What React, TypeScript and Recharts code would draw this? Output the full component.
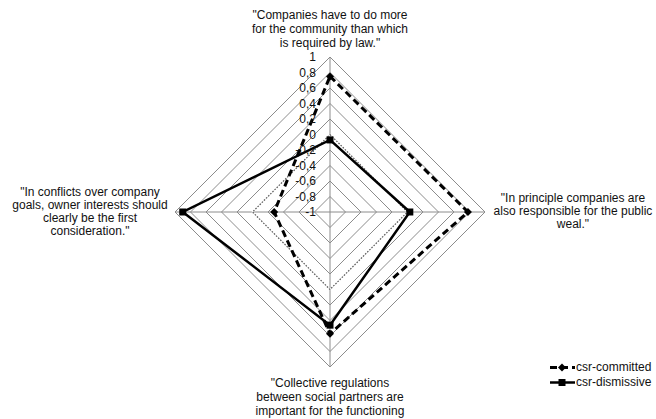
import { RadarChart, Radar, PolarGrid, PolarAngleAxis, PolarRadiusAxis, Legend } from 'recharts';

// statements (axes), top then clockwise
const statements = [
  'beyond-law',
  'public-weal',
  'collective-regulations',
  'owners-first',
];

const statementLines: string[][] = [
  ['"Companies have to do more', 'for the community than which', 'is required by law."'],
  ['"In principle companies are', 'also responsible for the public', 'weal."'],
  ['"Collective regulations', 'between social partners are', 'important for the functioning'],
  ['"In conflicts over company', 'goals, owner interests should', 'clearly be the first', 'consideration."'],
];

const committed = [0.75, 0.78, 0.57, -0.28];
const dismissive = [-0.07, 0.03, 0.46, 0.9];
const zeroLine = [0, 0, 0, 0];

const radiusTicks = [-1, -0.8, -0.6, -0.4, -0.2, 0, 0.2, 0.4, 0.6, 0.8, 1];

const data = statements.map((s, i) => ({
  statement: s,
  committed: committed[i],
  dismissive: dismissive[i],
  zero: zeroLine[i],
}));

const FONT = '"Liberation Sans", Arial, sans-serif';

const fmt = (v: number) => String(Number(v.toFixed(1))).replace('.', ',');

// where each multi-line label sits relative to the axis end point
const labelPlacement = [
  { dx: 0, dy: -34, step: 14 },
  { dx: 80, dy: -14, step: 13 },
  { dx: 0, dy: 8, step: 14 },
  { dx: -77, dy: -20, step: 13 },
];

function AngleTick(props: any) {
  const { x, y, index } = props;
  const lines = statementLines[index] || [];
  const p = labelPlacement[index];
  return (
    <g>
      {lines.map((line, k) => (
        <text
          key={k}
          x={x + p.dx}
          y={y + p.dy + k * p.step}
          textAnchor="middle"
          dominantBaseline="central"
          fontSize={12}
          fontFamily={FONT}
          fill="#111"
        >
          {line}
        </text>
      ))}
    </g>
  );
}

function RadiusTick(props: any) {
  const { x, y, payload } = props;
  return (
    <text
      x={x - 14}
      y={y}
      textAnchor="end"
      dominantBaseline="central"
      fontSize={12}
      fontFamily={FONT}
      fill="#111"
    >
      {fmt(payload.value)}
    </text>
  );
}

function DiamondDot(props: any) {
  const { cx, cy } = props;
  const s = 4;
  return <path d={`M${cx},${cy - s}L${cx + s},${cy}L${cx},${cy + s}L${cx - s},${cy}Z`} fill="#000" />;
}

function SquareDot(props: any) {
  const { cx, cy } = props;
  return <rect x={cx - 3.5} y={cy - 3.5} width={7} height={7} fill="#000" />;
}

function LegendBox() {
  return (
    <div style={{ fontFamily: FONT, fontSize: 12, color: '#111', lineHeight: '15px' }}>
      <div style={{ display: 'flex', alignItems: 'center' }}>
        <svg width={27} height={15}>
          <line x1={1} y1={7.5} x2={26} y2={7.5} stroke="#000" strokeWidth={3} strokeDasharray="7 4" />
          <path d="M13,3.5L17,7.5L13,11.5L9,7.5Z" fill="#000" />
        </svg>
        <span>csr-committed</span>
      </div>
      <div style={{ display: 'flex', alignItems: 'center' }}>
        <svg width={27} height={15}>
          <line x1={1} y1={7.5} x2={26} y2={7.5} stroke="#000" strokeWidth={2.5} />
          <rect x={9.5} y={4} width={7} height={7} fill="#000" />
        </svg>
        <span>csr-dismissive</span>
      </div>
    </div>
  );
}

export default function App() {
  return (
    <div style={{ position: 'absolute', left: 0, top: 0, width: 656, height: 419, background: '#fff' }}>
      <RadarChart
        width={656}
        height={419}
        data={data}
        cx={330}
        cy={212}
        outerRadius={155}
        margin={{ top: 0, right: 0, bottom: 0, left: 0 }}
      >
        <PolarGrid gridType="polygon" stroke="#8c8c8c" strokeWidth={1} />
        <PolarAngleAxis dataKey="statement" tick={<AngleTick />} axisLine={false} tickLine={false} />
        <PolarRadiusAxis
          angle={90}
          domain={[-1, 1]}
          ticks={radiusTicks as any}
          tickCount={11}
          tick={<RadiusTick />}
          axisLine={false}
          tickLine={false}
        />
        <Radar
          dataKey="zero"
          stroke="#ffffff"
          strokeWidth={1.5}
          fill="none"
          dot={false}
          legendType="none"
          isAnimationActive={false}
        />
        <Radar
          dataKey="zero"
          stroke="#555"
          strokeWidth={1.2}
          strokeDasharray="1.5 1.5"
          fill="none"
          dot={false}
          legendType="none"
          isAnimationActive={false}
        />
        <Radar
          name="csr-committed"
          dataKey="committed"
          stroke="#000"
          strokeWidth={3}
          strokeDasharray="7 4"
          fill="none"
          dot={<DiamondDot />}
          isAnimationActive={false}
        />
        <Radar
          name="csr-dismissive"
          dataKey="dismissive"
          stroke="#000"
          strokeWidth={2.5}
          fill="none"
          dot={<SquareDot />}
          isAnimationActive={false}
        />
        <Legend
          content={<LegendBox />}
          wrapperStyle={{ position: 'absolute', left: 549, top: 360, width: 110 }}
        />
      </RadarChart>
    </div>
  );
}
